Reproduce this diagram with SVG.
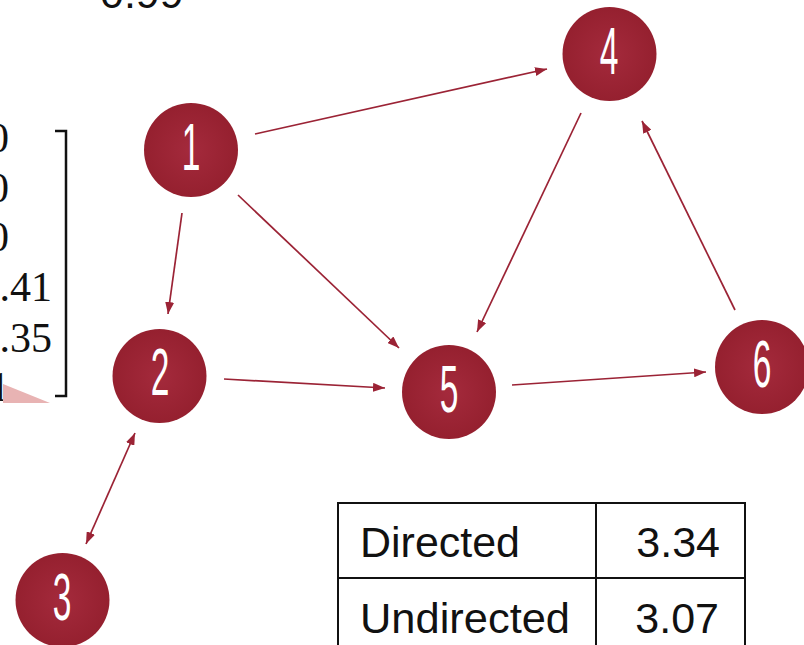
<svg xmlns="http://www.w3.org/2000/svg" width="804" height="645" viewBox="0 0 804 645">
<style>
.node{fill:url(#ng)}
.num{fill:#fff;font-family:"Liberation Sans",Arial,sans-serif;font-size:67px;text-anchor:middle}
.edge{stroke:#9b2335;stroke-width:1.7;fill:none}
.mx{font-family:"Liberation Serif","Times New Roman",serif;font-size:42px;fill:#111;text-anchor:end}
.tb{font-family:"Liberation Sans",Arial,sans-serif;font-size:43px;fill:#111}
</style>
<defs>
<radialGradient id="ng" cx="0.5" cy="0.5" r="0.5">
<stop offset="0" stop-color="#a42a3c"/>
<stop offset="1" stop-color="#95202f"/>
</radialGradient>
<marker id="ah" viewBox="0 0 12 9" refX="12" refY="4.5" markerWidth="12" markerHeight="9" markerUnits="userSpaceOnUse" orient="auto-start-reverse">
<path d="M0,0 L12,4.5 L0,9 z" fill="#9b2335"/>
</marker>
</defs>
<rect width="804" height="645" fill="#fff"/>

<g id="top-value"><text class="tb" x="100" y="8" font-size="44">0.99</text></g>

<g id="matrix">
<text class="mx" x="9" y="152">0</text>
<text class="mx" x="9" y="202">0</text>
<text class="mx" x="9" y="251">0</text>
<text class="mx" x="52" y="301">.41</text>
<text class="mx" x="52" y="352">.35</text>
<text class="mx" x="10" y="401">1</text>
<path d="M55,131 H66 V396 H55" fill="none" stroke="#111" stroke-width="2.5"/>
<polygon points="3,384 50,403 3,403" fill="#e8b3b3"/>
</g>

<g id="connectors">
<line class="edge" x1="255" y1="134" x2="547" y2="69" marker-end="url(#ah)"/>
<line class="edge" x1="182" y1="213" x2="168" y2="314" marker-end="url(#ah)"/>
<line class="edge" x1="238" y1="195" x2="399" y2="348" marker-end="url(#ah)"/>
<line class="edge" x1="581" y1="113" x2="477" y2="332" marker-end="url(#ah)"/>
<line class="edge" x1="735" y1="310" x2="642" y2="121" marker-end="url(#ah)"/>
<line class="edge" x1="224" y1="379" x2="385" y2="388" marker-end="url(#ah)"/>
<line class="edge" x1="512" y1="385" x2="706" y2="372" marker-end="url(#ah)"/>
<line class="edge" x1="135" y1="433" x2="86" y2="544" marker-start="url(#ah)" marker-end="url(#ah)"/>
</g>

<g id="node1"><circle class="node" cx="191" cy="150" r="47"/><text class="num" transform="translate(191,170) scale(0.5,1)">1</text></g>
<g id="node2"><circle class="node" cx="159.5" cy="376" r="47"/><text class="num" transform="translate(160,395) scale(0.5,1)">2</text></g>
<g id="node3"><circle class="node" cx="62.5" cy="600" r="47"/><text class="num" transform="translate(62,620) scale(0.5,1)">3</text></g>
<g id="node4"><circle class="node" cx="609.5" cy="54" r="47"/><text class="num" transform="translate(609,74) scale(0.5,1)">4</text></g>
<g id="node5"><circle class="node" cx="449" cy="392" r="47"/><text class="num" transform="translate(449,412) scale(0.5,1)">5</text></g>
<g id="node6"><circle class="node" cx="762" cy="367" r="47"/><text class="num" transform="translate(762,387) scale(0.5,1)">6</text></g>

<g id="table">
<rect x="338" y="503" width="407" height="160" fill="none" stroke="#111" stroke-width="2"/>
<line x1="338" y1="578" x2="745" y2="578" stroke="#111" stroke-width="2"/>
<line x1="596" y1="503" x2="596" y2="645" stroke="#111" stroke-width="2"/>
<text class="tb" x="360" y="557" textLength="160" lengthAdjust="spacingAndGlyphs">Directed</text>
<text class="tb" x="720" y="557" text-anchor="end">3.34</text>
<text class="tb" x="360" y="633" textLength="210" lengthAdjust="spacingAndGlyphs">Undirected</text>
<text class="tb" x="719" y="633" text-anchor="end">3.07</text>
</g>
</svg>
